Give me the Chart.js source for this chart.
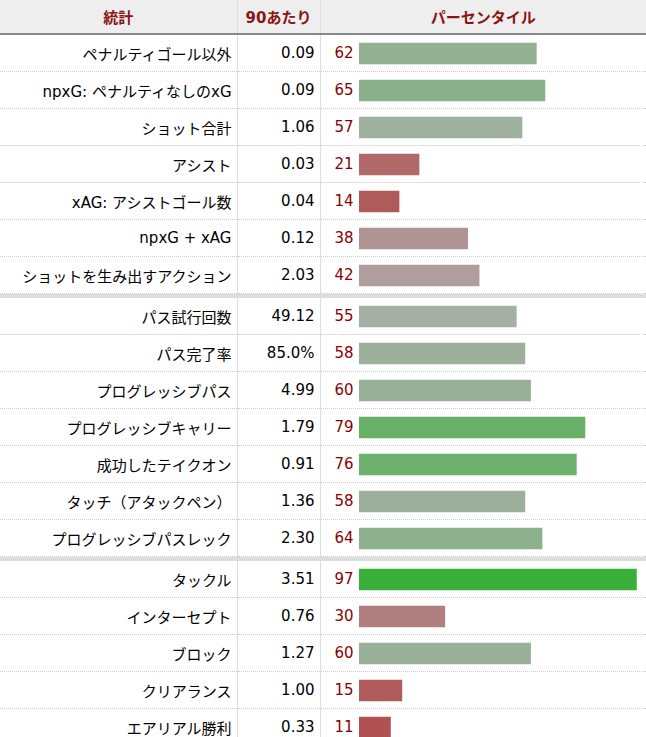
<!DOCTYPE html>
<html><head><meta charset="utf-8">
<script src="https://cdn.jsdelivr.net/npm/chart.js@4"></script>
<style>
body{margin:0;background:#fff;font-family:"DejaVu Sans","Noto Sans CJK JP",sans-serif;font-size:15px;color:#000;}
#wrap{position:relative;width:646px;height:737px;overflow:hidden;}
table{border-collapse:collapse;table-layout:fixed;width:646px;position:absolute;left:0;top:0;}
th{height:33px;background:#eee;color:#8b1414;font-weight:bold;font-size:15px;border-bottom:2px solid #888;text-align:center;padding:0;}
td{height:36px;border-bottom:1px dotted #ccc;padding:0;}
td.l{text-align:right;padding-right:5px;}
td.v{text-align:right;padding-right:5px;border-left:1px solid #ddd;}
td.p{border-left:1px solid #ddd;color:#8b0000;}
th.c2,th.c3{border-left:1px solid #ddd;}
td.p span{display:inline-block;width:33px;text-align:right;}
tr.sep td{height:4px;background:#ddd;border:none;}
canvas{position:absolute;}
</style></head><body>
<div id="wrap">
<table id="t"><colgroup><col style="width:237px"><col style="width:83px"><col style="width:326px"></colgroup>
<thead><tr><th>統計</th><th class="c2">90あたり</th><th class="c3">パーセンタイル</th></tr></thead>
<tbody id="tb"></tbody></table>
</div>
<script>
const groupLabels = [
  ["ペナルティゴール以外","npxG: ペナルティなしのxG","ショット合計","アシスト","xAG: アシストゴール数","npxG + xAG","ショットを生み出すアクション"],
  ["パス試行回数","パス完了率","プログレッシブパス","プログレッシブキャリー","成功したテイクオン","タッチ（アタックペン）","プログレッシブパスレック"],
  ["タックル","インターセプト","ブロック","クリアランス","エアリアル勝利"]
];
const groupPer90 = [
  ["0.09","0.09","1.06","0.03","0.04","0.12","2.03"],
  ["49.12","85.0%","4.99","1.79","0.91","1.36","2.30"],
  ["3.51","0.76","1.27","1.00","0.33"]
];
const groupPct = [
  [62,65,57,21,14,38,42],
  [55,58,60,79,76,58,64],
  [97,30,60,15,11]
];
function pctColor(p){
  if(p>=50){const t=(p-50)/50;const c=Math.round(176-126*t);return `rgb(${c},176,${c})`;}
  const t=(50-p)/50;const c=Math.round(176-120*t);return `rgb(176,${c},${c})`;
}
const tb=document.getElementById('tb');
const wrap=document.getElementById('wrap');
groupLabels.forEach((labs,g)=>{
  if(g>0){const s=document.createElement('tr');s.className='sep';s.innerHTML='<td colspan="3"></td>';tb.appendChild(s);}
  labs.forEach((l,i)=>{
    const tr=document.createElement('tr');
    tr.innerHTML=`<td class="l">${l}</td><td class="v">${groupPer90[g][i]}</td><td class="p"><span>${groupPct[g][i]}</span></td>`;
    tb.appendChild(tr);
  });
});
const tops=[35,298,561];
groupLabels.forEach((labs,g)=>{
  const rows=labs.length;
  const d=document.createElement('div');
  d.style.cssText=`position:absolute;left:320px;top:${tops[g]}px;width:326px;height:${rows*37}px;`;
  const c=document.createElement('canvas');d.appendChild(c);wrap.appendChild(d);
  new Chart(c,{type:'bar',
    data:{labels:labs,datasets:[{data:groupPct[g],backgroundColor:groupPct[g].map(pctColor),barThickness:21}]},
    options:{indexAxis:'y',responsive:true,maintainAspectRatio:false,animation:false,
      layout:{padding:{left:39,right:1,top:0,bottom:0}},
      plugins:{legend:{display:false},tooltip:{enabled:false}},
      scales:{x:{display:false,min:0,max:100},y:{display:false}}}});
});
</script></body></html>
